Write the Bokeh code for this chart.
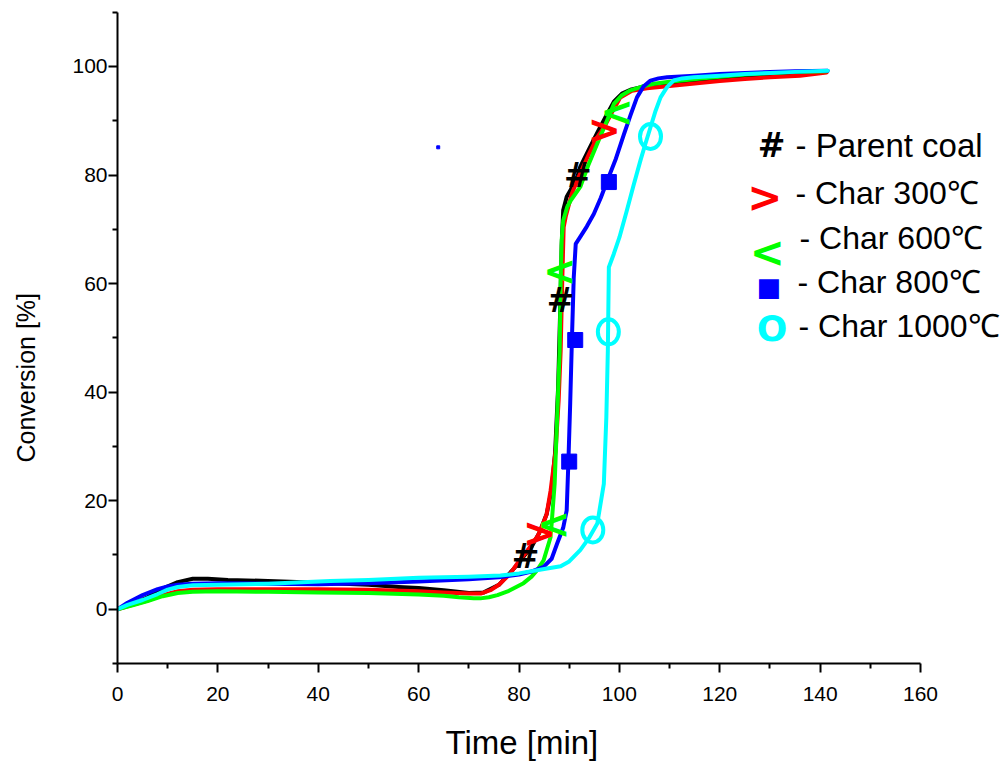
from bokeh.plotting import figure
from bokeh.models import Range1d, FixedTicker, Label, Title, LinearAxis
from bokeh.embed import file_html
from bokeh.resources import INLINE
from bokeh.core.properties import value

# ---------------- data ----------------
SERIES_NAMES = ["Parent coal", "Char 300\u2103", "Char 600\u2103", "Char 800\u2103", "Char 1000\u2103"]

PC_X = [0, 3, 6, 9, 12, 15, 18, 22, 30, 40, 50, 56, 60, 65, 70, 73, 76, 79, 81, 82.5, 84, 85.5, 86.5, 87.2, 87.8,
        88.2, 88.5, 88.8, 89.5, 90.3, 91.2, 91.7, 92.2, 93.8, 95.6, 97.3, 98.9, 100.5, 102.2, 105, 110, 115, 120,
        125, 130, 135, 141.3]
PC_Y = [0, 1.0, 2.2, 3.8, 5.0, 5.6, 5.6, 5.4, 5.2, 4.9, 4.5, 4.1, 3.9, 3.5, 3.0, 3.1, 4.5, 7.5, 9.8, 11.5, 14.0,
        17.5, 22.0, 29.0, 41.0, 55.0, 67.0, 73.5, 76.0, 77.3, 79.0, 79.9, 81.5, 84.5, 87.8, 90.8, 93.5, 95.0, 95.7,
        96.3, 96.9, 97.3, 97.7, 98.2, 98.6, 98.9, 99.1]

C300_X = [0, 3, 6, 9, 12, 15, 20, 30, 40, 50, 60, 65, 70, 72.5, 74.3, 76, 78.3, 79.7, 81.5, 83.6, 84.5, 85.5, 86.3,
          87.3, 87.9, 88.3, 88.6, 88.9, 89.3, 90.5, 92.2, 94.0, 95.6, 97.0, 98.5, 100.2, 102.5, 105.5, 110, 113.5,
          120, 125, 130, 136, 141.3]
C300_Y = [0, 0.8, 1.6, 2.6, 3.3, 3.6, 3.7, 3.7, 3.7, 3.6, 3.3, 3.1, 2.9, 2.9, 3.5, 4.5, 6.6, 8.5, 10.6, 13.3, 15.0,
          17.5, 21.9, 29.3, 38.5, 47.7, 60.0, 70.4, 72.3, 76.5, 80.3, 84.0, 87.0, 88.9, 91.5, 94.3, 95.5, 96.0, 96.4,
          96.7, 97.3, 97.7, 98.0, 98.3, 98.9]

C600_X = [0, 3, 6, 9, 12, 15, 20, 30, 40, 50, 60, 65, 68, 71, 72.3, 74, 75.7, 78, 80.9, 82.5, 83.6, 84.9, 86.3, 87.1,
          87.6, 88.1, 88.3, 88.5, 88.8, 89.6, 90.3, 92.2, 93.8, 95.6, 97.3, 98.9, 100.5, 102.2, 104.5, 106.9, 110,
          116.2, 120, 125, 130, 135, 141.3]
C600_Y = [0, 0.7, 1.5, 2.4, 3.0, 3.2, 3.3, 3.2, 3.1, 3.0, 2.7, 2.5, 2.2, 2.0, 2.0, 2.2, 2.6, 3.4, 4.8, 6.0, 7.2, 9.0,
          13.3, 23.1, 35.4, 47.7, 60.6, 68.0, 71.6, 74.1, 75.3, 77.8, 81.8, 85.8, 89.5, 93.1, 94.7, 95.6, 96.3, 96.8,
          97.2, 97.8, 98.1, 98.5, 98.8, 99.0, 99.1]

C800_X = [0, 2, 5, 8, 10, 12, 15, 20, 30, 40, 50, 60, 70, 76, 80, 82.3, 84.9, 86.5, 87.6, 88.8, 89.5, 89.85, 90.2,
          90.55, 90.9, 91.3, 92.2, 93.5, 94.9, 96.3, 97.6, 99.3, 100.9, 102.2, 103.5, 104.8, 106.2, 107.8, 109.5,
          115, 120, 125, 130, 135, 141.5]
C800_Y = [0, 1.2, 2.6, 3.7, 4.2, 4.5, 4.7, 4.8, 4.7, 4.6, 4.8, 5.1, 5.5, 5.9, 6.4, 6.9, 7.8, 9.3, 12.1, 15.0, 18.2,
          27.5, 38.0, 50.0, 61.0, 67.3, 68.6, 70.5, 72.8, 75.8, 79.0, 83.0, 87.5, 91.0, 94.3, 96.3, 97.4, 97.8, 98.0,
          98.3, 98.6, 98.8, 99.0, 99.1, 99.2]

C1000_X = [0, 2, 5, 8, 10, 12, 15, 20, 30, 42.4, 50, 60, 70, 76.3, 80, 85.6, 88.3, 90, 92.2, 94, 95.6, 96.9, 97.4,
           97.7, 97.9, 98.9, 100, 101.5, 102.8, 104.2, 105.2, 106.2, 107.2, 108.2, 109.5, 110.8, 112.5, 114.8, 120,
           125, 130, 135, 141.5]
C1000_Y = [0, 0.8, 1.7, 2.8, 3.6, 4.1, 4.4, 4.5, 4.7, 5.2, 5.4, 5.8, 6.0, 6.2, 6.6, 7.5, 7.9, 8.8, 10.9, 13.2, 15.8,
           23.1, 35.4, 47.7, 63.0, 65.5, 68.5, 73.5, 78.0, 82.7, 85.8, 88.8, 91.8, 94.3, 96.2, 97.4, 97.8, 98.0, 98.3,
           98.6, 98.8, 99.0, 99.2]

# symbol positions along each curve
PC_MX, PC_MY = [81.3, 88.3, 91.7], [9.8, 56.8, 79.9]
C300_MX, C300_MY = [84.1, 97.0], [14.0, 88.2]
C600_MX, C600_MY = [86.9, 88.1, 99.5], [15.7, 62.4, 91.6]
C800_MX, C800_MY = [90.0, 91.2, 97.9], [27.2, 49.6, 78.7]
C1000_MX, C1000_MY = [94.7, 97.8, 106.2], [14.6, 51.1, 87.1]

STRAY_X, STRAY_Y = [63.9], [85.1]

X_TICKS = [0, 20, 40, 60, 80, 100, 120, 140, 160]
X_MINOR = [10, 30, 50, 70, 90, 110, 130, 150]
Y_TICKS = [0, 20, 40, 60, 80, 100]
Y_MINOR = [-10, 10, 30, 50, 70, 90, 110]

FONT = "Liberation Sans"
SYMFONT = "DejaVu Sans"

# ---------------- figure ----------------
p = figure(width=1005, height=762, output_backend="svg", toolbar_location=None,
           x_range=Range1d(0, 176.93), y_range=Range1d(-10, 112.15),
           min_border_left=117, min_border_right=0, min_border_top=0, min_border_bottom=99)
p.outline_line_color = None
p.grid.visible = False
p.background_fill_color = "white"
p.border_fill_color = "white"

for ax in (p.xaxis[0], p.yaxis[0]):
    ax.axis_line_width = 2
    ax.major_tick_line_width = 2
    ax.minor_tick_line_width = 2
    ax.major_tick_in = 0
    ax.minor_tick_in = 0
    ax.major_tick_out = 9
    ax.minor_tick_out = 5
    ax.major_label_text_font = FONT
    ax.major_label_text_font_size = "21px"
    ax.major_label_text_color = "black"

xa = p.xaxis[0]
xa.bounds = (0, 160)
xa.ticker = FixedTicker(ticks=X_TICKS, minor_ticks=X_MINOR)
xa.major_label_standoff = 14

ya = p.yaxis[0]
ya.bounds = (-10, 110)
ya.ticker = FixedTicker(ticks=Y_TICKS, minor_ticks=Y_MINOR)
ya.major_label_standoff = 1


def spacer(px, tick):
    # invisible axis (one hidden, unlabeled tick) that only reserves room before the title
    return LinearAxis(ticker=FixedTicker(ticks=[tick], minor_ticks=[]), axis_line_color=None,
                      major_tick_line_color=None, minor_tick_line_color=None,
                      major_tick_in=0, major_tick_out=px, minor_tick_in=0, minor_tick_out=0,
                      major_label_standoff=0, major_label_overrides={tick: ""},
                      major_label_text_font_size="1px", major_label_text_color=None)


p.add_layout(spacer(30, 50), "left")
p.add_layout(Title(text="Conversion [%]", align="left", offset=201, vertical_align="bottom", standoff=0,
                   text_font=FONT, text_font_style="normal", text_font_size="25px",
                   text_color="black"), "left")
p.add_layout(spacer(18, 80), "below")
p.add_layout(Title(text="Time [min]", align="left", offset=328, vertical_align="bottom", standoff=0,
                   text_font=FONT, text_font_style="normal", text_font_size="33px",
                   text_color="black"), "below")

# ---------------- curves ----------------
series = [
    (PC_X, PC_Y, "#000000"),
    (C300_X, C300_Y, "#FF0000"),
    (C600_X, C600_Y, "#00FF00"),
    (C800_X, C800_Y, "#0000FF"),
    (C1000_X, C1000_Y, "#00FFFF"),
]
for xs, ys, col in series:
    p.line(xs, ys, line_color=col, line_width=4, line_join="round", line_cap="round")

p.scatter(STRAY_X, STRAY_Y, marker="square", size=3, color="#0000FF")

# ---------------- symbols ----------------
def sym(xs, ys, ch, col, size):
    p.text(x=xs, y=ys, text=[ch] * len(xs), text_font=value(SYMFONT), text_font_style="bold",
           text_font_size=size, text_align="center", text_baseline="middle", text_color=col)

sym(PC_MX, PC_MY, "#", "#000000", "33px")
sym(C300_MX, C300_MY, ">", "#FF0000", "40px")
sym(C600_MX, C600_MY, "<", "#00FF00", "40px")
p.scatter(C800_MX, C800_MY, marker="square", size=15, color="#0000FF")
p.ellipse(C1000_MX, C1000_MY, width=21, height=25, width_units="screen", height_units="screen",
          fill_color=None, line_color="#00FFFF", line_width=4)

# ---------------- legend ----------------
LEG_SYM = ["#", ">", "<", "\u25A0", "O"]
LEG_COL = ["#000000", "#FF0000", "#00FF00", "#0000FF", "#00FFFF"]
LEG_SYM_SIZE = ["33px", "42px", "42px", "26px", "36px"]
LEG_TXT_SIZE = ["33px", "32px", "32px", "32px", "32px"]
leg_sym_x = [130.3, 129.0, 129.5, 129.8, 130.4]
leg_sym_y = [85.5, 75.8, 65.8, 59.4, 51.8]
leg_txt_x = [135.1, 135.1, 135.9, 135.5, 135.7]
leg_txt_y = [85.5, 76.7, 68.4, 60.2, 52.1]
for i, name in enumerate(SERIES_NAMES):
    p.add_layout(Label(x=leg_sym_x[i], y=leg_sym_y[i], text=LEG_SYM[i], text_font=SYMFONT,
                       text_font_style="bold", text_font_size=LEG_SYM_SIZE[i], text_color=LEG_COL[i],
                       text_align="center", text_baseline="middle"))
    p.add_layout(Label(x=leg_txt_x[i], y=leg_txt_y[i], text="- " + name, text_font=FONT,
                       text_font_size=LEG_TXT_SIZE[i], text_color="black",
                       text_align="left", text_baseline="middle"))

open("out.html", "w").write(file_html(p, INLINE))
